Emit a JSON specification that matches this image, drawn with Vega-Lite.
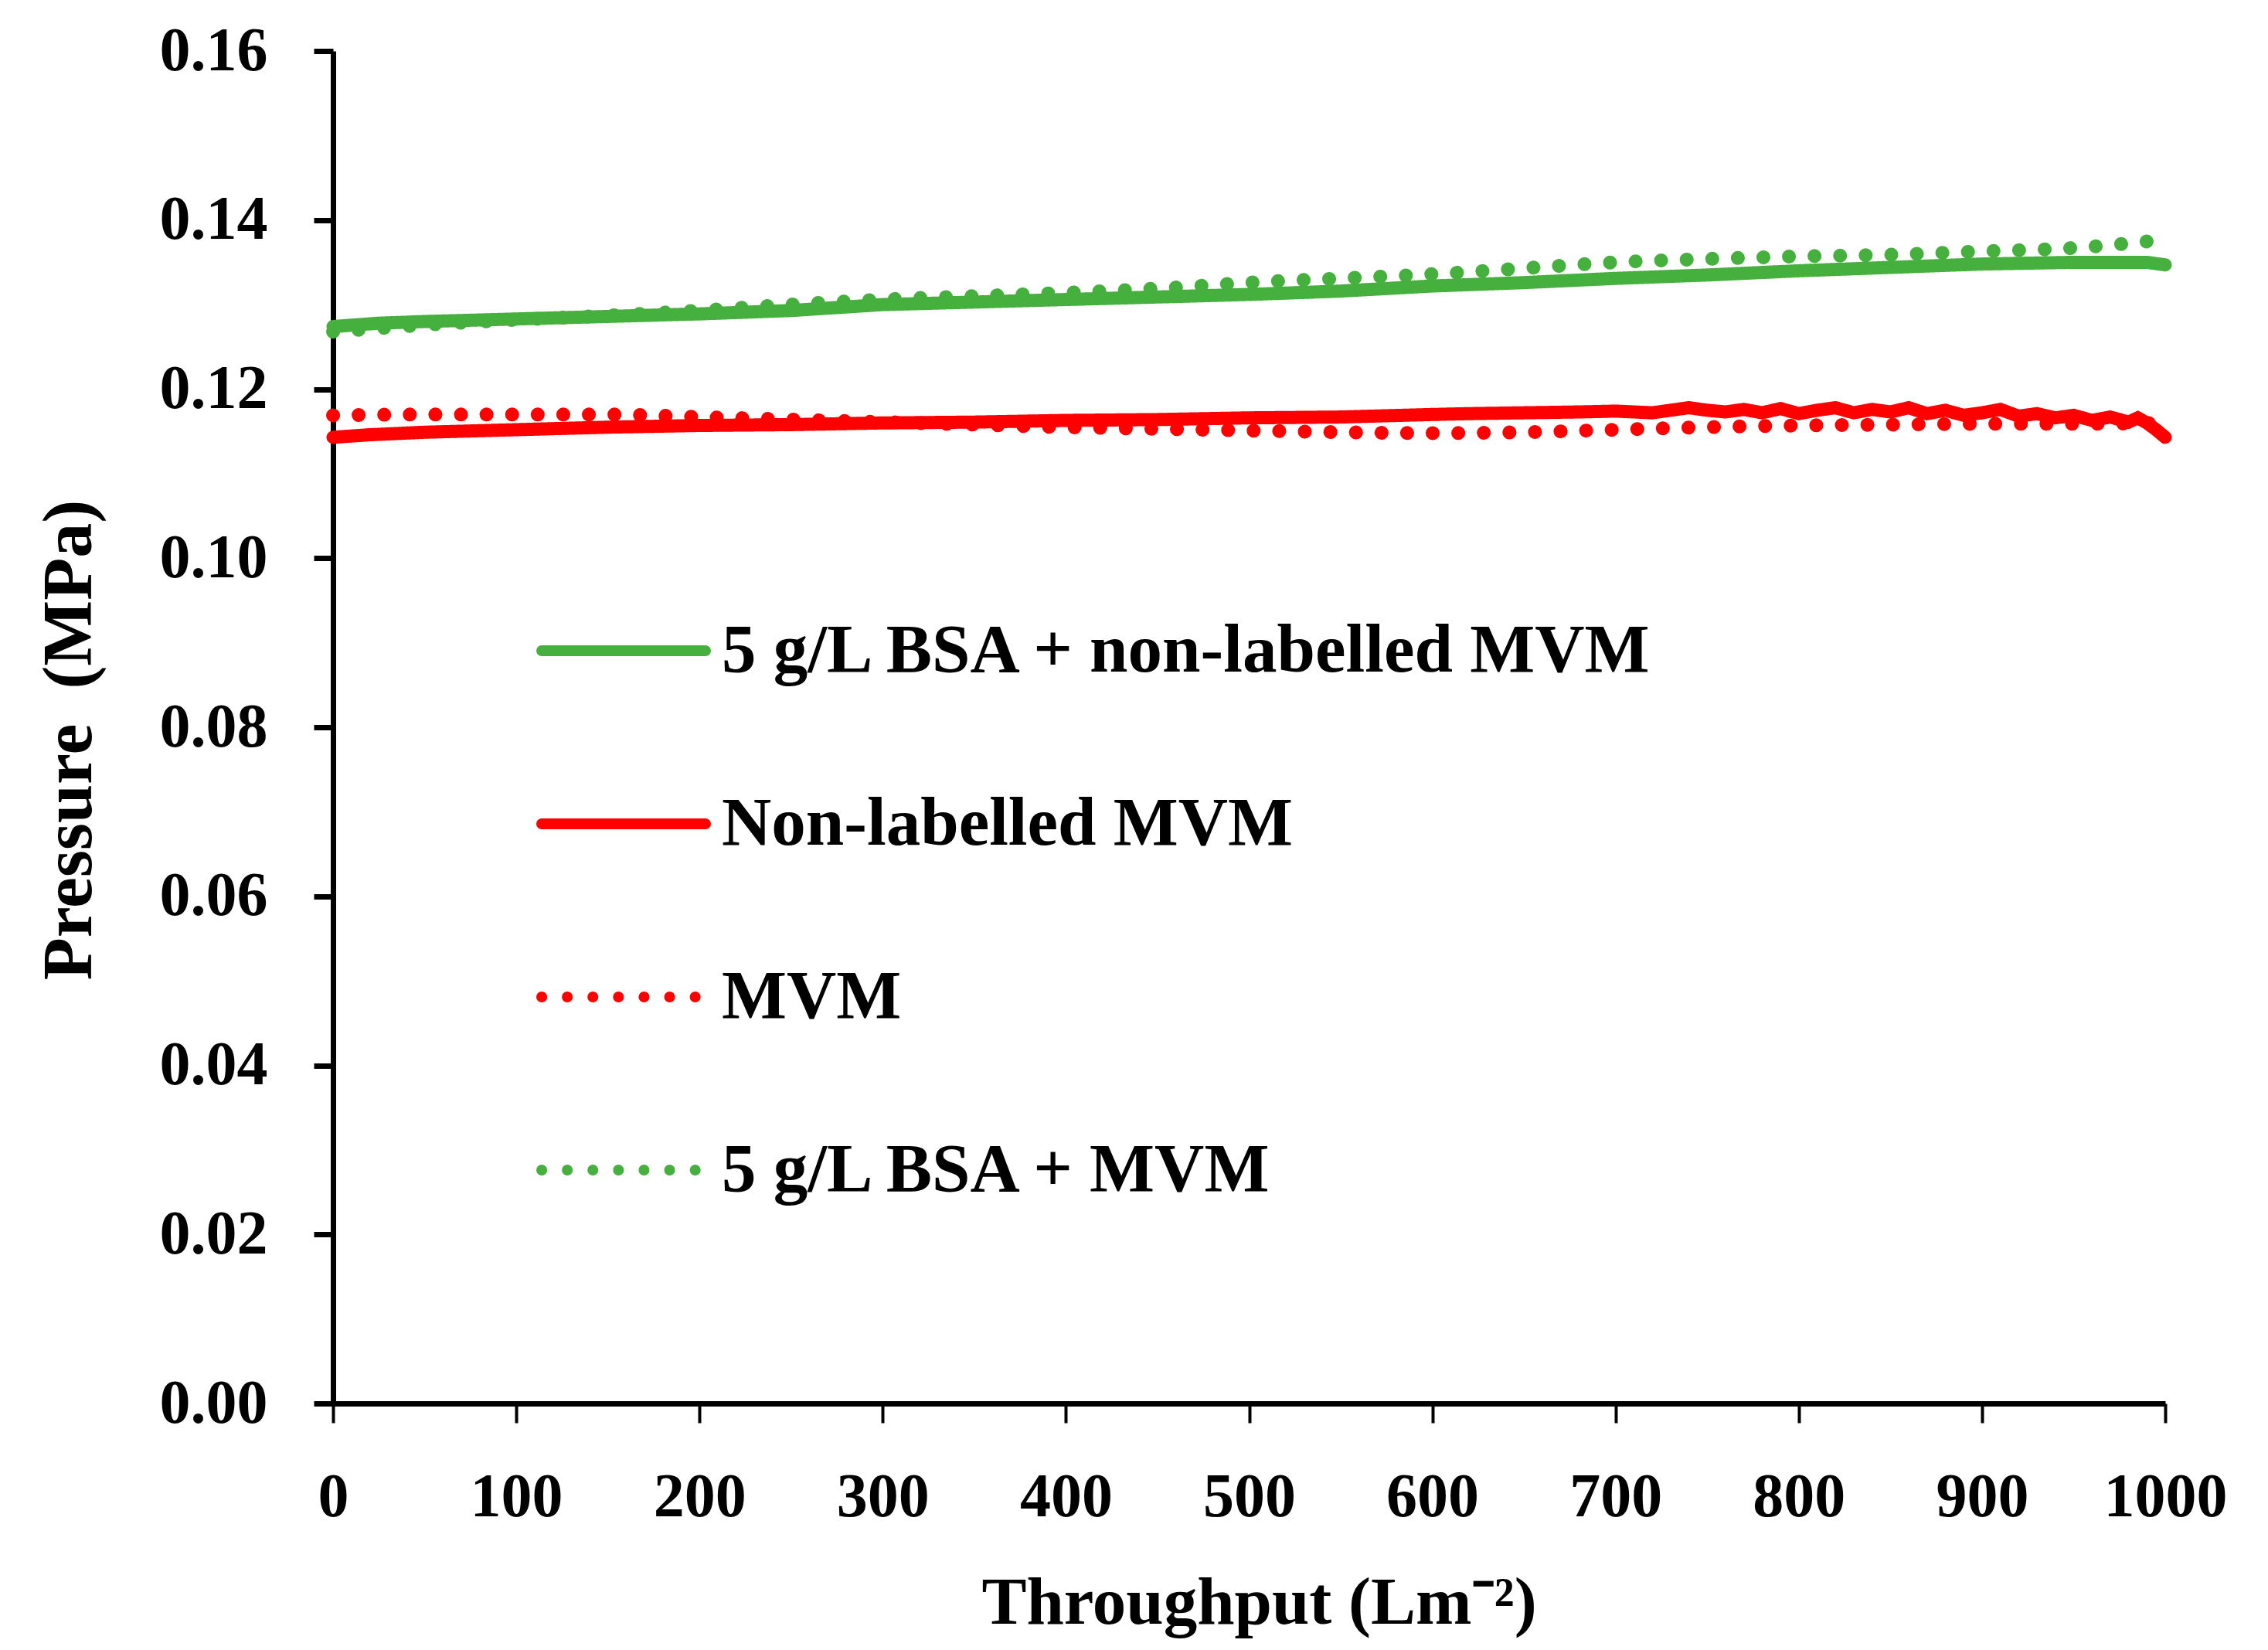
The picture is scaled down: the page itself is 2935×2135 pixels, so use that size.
{
  "$schema": "https://vega.github.io/schema/vega-lite/v6.json",
  "description": "Pressure vs throughput for four MVM feeds",
  "autosize": {"type": "none"},
  "padding": {"left": 431, "top": 66, "right": 133, "bottom": 319},
  "width": 2371,
  "height": 1750,
  "background": "white",
  "config": {
    "view": {"stroke": null},
    "font": "Liberation Serif",
    "axis": {
      "labelFont": "Liberation Serif",
      "labelFontWeight": "bold",
      "labelFontSize": 80,
      "labelColor": "black",
      "labelFlush": false,
      "titleFont": "Liberation Serif",
      "titleFontWeight": "bold",
      "titleFontSize": 87,
      "titleColor": "black",
      "domainColor": "black",
      "domainWidth": 7,
      "tickColor": "black",
      "tickSize": 25,
      "grid": false
    }
  },
  "data": {
    "values": [
      {"t": 0, "p": 0.1274, "s": "5 g/L BSA + non-labelled MVM"},
      {"t": 25, "p": 0.1278, "s": "5 g/L BSA + non-labelled MVM"},
      {"t": 50, "p": 0.1280, "s": "5 g/L BSA + non-labelled MVM"},
      {"t": 100, "p": 0.1283, "s": "5 g/L BSA + non-labelled MVM"},
      {"t": 150, "p": 0.1286, "s": "5 g/L BSA + non-labelled MVM"},
      {"t": 200, "p": 0.1289, "s": "5 g/L BSA + non-labelled MVM"},
      {"t": 250, "p": 0.1293, "s": "5 g/L BSA + non-labelled MVM"},
      {"t": 300, "p": 0.1300, "s": "5 g/L BSA + non-labelled MVM"},
      {"t": 350, "p": 0.1303, "s": "5 g/L BSA + non-labelled MVM"},
      {"t": 400, "p": 0.1306, "s": "5 g/L BSA + non-labelled MVM"},
      {"t": 450, "p": 0.1309, "s": "5 g/L BSA + non-labelled MVM"},
      {"t": 500, "p": 0.1312, "s": "5 g/L BSA + non-labelled MVM"},
      {"t": 550, "p": 0.1316, "s": "5 g/L BSA + non-labelled MVM"},
      {"t": 600, "p": 0.1322, "s": "5 g/L BSA + non-labelled MVM"},
      {"t": 650, "p": 0.1326, "s": "5 g/L BSA + non-labelled MVM"},
      {"t": 700, "p": 0.1331, "s": "5 g/L BSA + non-labelled MVM"},
      {"t": 750, "p": 0.1335, "s": "5 g/L BSA + non-labelled MVM"},
      {"t": 800, "p": 0.1340, "s": "5 g/L BSA + non-labelled MVM"},
      {"t": 850, "p": 0.1344, "s": "5 g/L BSA + non-labelled MVM"},
      {"t": 900, "p": 0.1348, "s": "5 g/L BSA + non-labelled MVM"},
      {"t": 950, "p": 0.1350, "s": "5 g/L BSA + non-labelled MVM"},
      {"t": 990, "p": 0.1350, "s": "5 g/L BSA + non-labelled MVM"},
      {"t": 1000, "p": 0.1347, "s": "5 g/L BSA + non-labelled MVM"},

      {"t": 0, "p": 0.1143, "s": "Non-labelled MVM"},
      {"t": 20, "p": 0.1146, "s": "Non-labelled MVM"},
      {"t": 50, "p": 0.1149, "s": "Non-labelled MVM"},
      {"t": 100, "p": 0.1152, "s": "Non-labelled MVM"},
      {"t": 150, "p": 0.1155, "s": "Non-labelled MVM"},
      {"t": 200, "p": 0.1157, "s": "Non-labelled MVM"},
      {"t": 250, "p": 0.1158, "s": "Non-labelled MVM"},
      {"t": 300, "p": 0.1160, "s": "Non-labelled MVM"},
      {"t": 350, "p": 0.1161, "s": "Non-labelled MVM"},
      {"t": 400, "p": 0.1163, "s": "Non-labelled MVM"},
      {"t": 450, "p": 0.1164, "s": "Non-labelled MVM"},
      {"t": 500, "p": 0.1166, "s": "Non-labelled MVM"},
      {"t": 550, "p": 0.1167, "s": "Non-labelled MVM"},
      {"t": 600, "p": 0.1170, "s": "Non-labelled MVM"},
      {"t": 620, "p": 0.1171, "s": "Non-labelled MVM"},
      {"t": 650, "p": 0.1172, "s": "Non-labelled MVM"},
      {"t": 680, "p": 0.1173, "s": "Non-labelled MVM"},
      {"t": 700, "p": 0.1174, "s": "Non-labelled MVM"},
      {"t": 720, "p": 0.1172, "s": "Non-labelled MVM"},
      {"t": 740, "p": 0.1178, "s": "Non-labelled MVM"},
      {"t": 750, "p": 0.1175, "s": "Non-labelled MVM"},
      {"t": 760, "p": 0.1173, "s": "Non-labelled MVM"},
      {"t": 770, "p": 0.1176, "s": "Non-labelled MVM"},
      {"t": 780, "p": 0.1172, "s": "Non-labelled MVM"},
      {"t": 790, "p": 0.1177, "s": "Non-labelled MVM"},
      {"t": 800, "p": 0.1171, "s": "Non-labelled MVM"},
      {"t": 810, "p": 0.1175, "s": "Non-labelled MVM"},
      {"t": 820, "p": 0.1178, "s": "Non-labelled MVM"},
      {"t": 830, "p": 0.1172, "s": "Non-labelled MVM"},
      {"t": 840, "p": 0.1176, "s": "Non-labelled MVM"},
      {"t": 850, "p": 0.1173, "s": "Non-labelled MVM"},
      {"t": 860, "p": 0.1178, "s": "Non-labelled MVM"},
      {"t": 870, "p": 0.1171, "s": "Non-labelled MVM"},
      {"t": 880, "p": 0.1175, "s": "Non-labelled MVM"},
      {"t": 890, "p": 0.1169, "s": "Non-labelled MVM"},
      {"t": 900, "p": 0.1172, "s": "Non-labelled MVM"},
      {"t": 910, "p": 0.1176, "s": "Non-labelled MVM"},
      {"t": 920, "p": 0.1168, "s": "Non-labelled MVM"},
      {"t": 930, "p": 0.1171, "s": "Non-labelled MVM"},
      {"t": 940, "p": 0.1166, "s": "Non-labelled MVM"},
      {"t": 950, "p": 0.1169, "s": "Non-labelled MVM"},
      {"t": 960, "p": 0.1163, "s": "Non-labelled MVM"},
      {"t": 970, "p": 0.1167, "s": "Non-labelled MVM"},
      {"t": 980, "p": 0.1161, "s": "Non-labelled MVM"},
      {"t": 985, "p": 0.1166, "s": "Non-labelled MVM"},
      {"t": 990, "p": 0.1160, "s": "Non-labelled MVM"},
      {"t": 995, "p": 0.1152, "s": "Non-labelled MVM"},
      {"t": 1000, "p": 0.1143, "s": "Non-labelled MVM"},

      {"t": 0, "p": 0.1169, "s": "MVM"},
      {"t": 50, "p": 0.1170, "s": "MVM"},
      {"t": 100, "p": 0.1170, "s": "MVM"},
      {"t": 150, "p": 0.1170, "s": "MVM"},
      {"t": 200, "p": 0.1167, "s": "MVM"},
      {"t": 250, "p": 0.1164, "s": "MVM"},
      {"t": 300, "p": 0.1161, "s": "MVM"},
      {"t": 350, "p": 0.1158, "s": "MVM"},
      {"t": 400, "p": 0.1155, "s": "MVM"},
      {"t": 450, "p": 0.1153, "s": "MVM"},
      {"t": 500, "p": 0.1151, "s": "MVM"},
      {"t": 550, "p": 0.1149, "s": "MVM"},
      {"t": 600, "p": 0.1148, "s": "MVM"},
      {"t": 650, "p": 0.1149, "s": "MVM"},
      {"t": 700, "p": 0.1152, "s": "MVM"},
      {"t": 750, "p": 0.1155, "s": "MVM"},
      {"t": 800, "p": 0.1157, "s": "MVM"},
      {"t": 850, "p": 0.1158, "s": "MVM"},
      {"t": 900, "p": 0.1159, "s": "MVM"},
      {"t": 950, "p": 0.1159, "s": "MVM"},
      {"t": 1000, "p": 0.1160, "s": "MVM"},

      {"t": 0, "p": 0.1268, "s": "5 g/L BSA + MVM"},
      {"t": 25, "p": 0.1272, "s": "5 g/L BSA + MVM"},
      {"t": 50, "p": 0.1276, "s": "5 g/L BSA + MVM"},
      {"t": 100, "p": 0.1282, "s": "5 g/L BSA + MVM"},
      {"t": 150, "p": 0.1287, "s": "5 g/L BSA + MVM"},
      {"t": 200, "p": 0.1293, "s": "5 g/L BSA + MVM"},
      {"t": 250, "p": 0.1300, "s": "5 g/L BSA + MVM"},
      {"t": 300, "p": 0.1306, "s": "5 g/L BSA + MVM"},
      {"t": 350, "p": 0.1310, "s": "5 g/L BSA + MVM"},
      {"t": 400, "p": 0.1314, "s": "5 g/L BSA + MVM"},
      {"t": 450, "p": 0.1319, "s": "5 g/L BSA + MVM"},
      {"t": 500, "p": 0.1326, "s": "5 g/L BSA + MVM"},
      {"t": 550, "p": 0.1331, "s": "5 g/L BSA + MVM"},
      {"t": 600, "p": 0.1336, "s": "5 g/L BSA + MVM"},
      {"t": 650, "p": 0.1343, "s": "5 g/L BSA + MVM"},
      {"t": 700, "p": 0.1350, "s": "5 g/L BSA + MVM"},
      {"t": 750, "p": 0.1354, "s": "5 g/L BSA + MVM"},
      {"t": 800, "p": 0.1357, "s": "5 g/L BSA + MVM"},
      {"t": 850, "p": 0.1359, "s": "5 g/L BSA + MVM"},
      {"t": 900, "p": 0.1363, "s": "5 g/L BSA + MVM"},
      {"t": 950, "p": 0.1367, "s": "5 g/L BSA + MVM"},
      {"t": 1000, "p": 0.1377, "s": "5 g/L BSA + MVM"}
    ]
  },
  "encoding": {
    "x": {
      "field": "t",
      "type": "quantitative",
      "scale": {"domain": [0, 1000], "nice": false},
      "axis": {
        "values": [0, 100, 200, 300, 400, 500, 600, 700, 800, 900, 1000],
        "format": "d",
        "tickWidth": 4,
        "labelPadding": 57,
        "labelBaseline": "top",
        "title": "Throughput (Lm⁻²)",
        "titleFontSize": 87,
        "titleX": 1198,
        "titleY": 284,
        "titleAlign": "center",
        "titleBaseline": "alphabetic"
      }
    },
    "y": {
      "field": "p",
      "type": "quantitative",
      "scale": {"domain": [0, 0.16], "nice": false, "zero": true},
      "axis": {
        "values": [0, 0.02, 0.04, 0.06, 0.08, 0.1, 0.12, 0.14, 0.16],
        "format": ".2f",
        "tickWidth": 7,
        "labelPadding": 60,
        "title": "Pressure \u00a0(MPa)",
        "titleFontSize": 90,
        "titleAngle": -90,
        "titleX": -341,
        "titleY": 891,
        "titleAlign": "center",
        "titleBaseline": "middle"
      }
    },
    "color": {
      "field": "s",
      "type": "nominal",
      "scale": {
        "domain": ["5 g/L BSA + non-labelled MVM", "Non-labelled MVM", "MVM", "5 g/L BSA + MVM"],
        "range": ["#45B03D", "#FF0000", "#FF0000", "#45B03D"]
      },
      "legend": {
        "orient": "none",
        "legendX": 263,
        "legendY": 663,
        "title": null,
        "symbolType": "stroke",
        "symbolSize": 44944,
        "symbolStrokeWidth": 14,
        "labelFont": "Liberation Serif",
        "labelFontWeight": "bold",
        "labelFontSize": 89,
        "labelColor": "black",
        "labelOffset": 14,
        "labelLimit": 3000,
        "rowPadding": 66,
        "encode": {
          "symbols": {
            "update": {
              "strokeCap": {"value": "round"}
            }
          }
        }
      }
    },
    "strokeDash": {
      "field": "s",
      "type": "nominal",
      "scale": {
        "domain": ["5 g/L BSA + non-labelled MVM", "Non-labelled MVM", "MVM", "5 g/L BSA + MVM"],
        "range": [[1, 0], [1, 0], [0.1, 33], [0.1, 33]]
      },
      "legend": null
    }
  },
  "layer": [
    {
      "transform": [{"filter": "datum.s === 'MVM' || datum.s === '5 g/L BSA + MVM'"}],
      "mark": {"type": "line", "strokeWidth": 18, "strokeCap": "round", "interpolate": "monotone"}
    },
    {
      "transform": [{"filter": "datum.s === 'Non-labelled MVM' || datum.s === '5 g/L BSA + non-labelled MVM'"}],
      "mark": {"type": "line", "strokeWidth": 17, "strokeCap": "round"}
    }
  ]
}
